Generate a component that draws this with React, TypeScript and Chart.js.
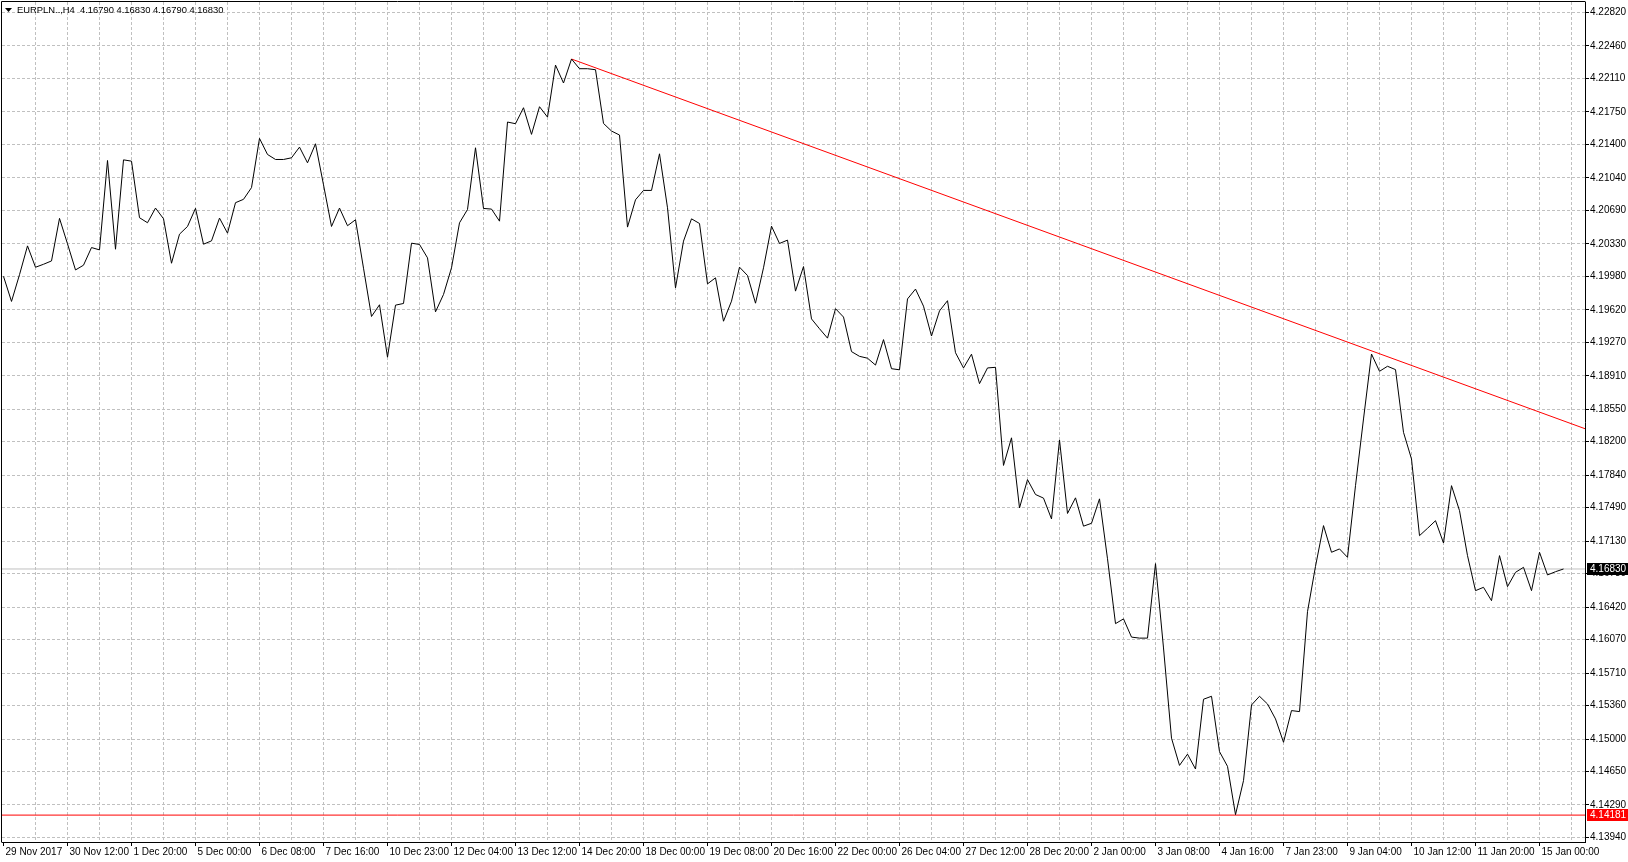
import React, { useEffect, useRef } from 'react';
import { Chart, registerables } from 'chart.js';

Chart.register(...registerables);

const HEADER_SYMBOL = 'EURPLN..,H4';
const HEADER_OHLC = ['4.16790', '4.16830', '4.16790', '4.16830'];

const TIME_LABELS = [
  '29 Nov 2017', '30 Nov 12:00', '1 Dec 20:00', '5 Dec 00:00', '6 Dec 08:00',
  '7 Dec 16:00', '10 Dec 23:00', '12 Dec 04:00', '13 Dec 12:00', '14 Dec 20:00',
  '18 Dec 00:00', '19 Dec 08:00', '20 Dec 16:00', '22 Dec 00:00', '26 Dec 04:00',
  '27 Dec 12:00', '28 Dec 20:00', '2 Jan 00:00', '3 Jan 08:00', '4 Jan 16:00',
  '7 Jan 23:00', '9 Jan 04:00', '10 Jan 12:00', '11 Jan 20:00', '15 Jan 00:00',
];

const PRICE_TICKS = [
  4.22820, 4.22460, 4.22110, 4.21750, 4.21400, 4.21040, 4.20690, 4.20330,
  4.19980, 4.19620, 4.19270, 4.18910, 4.18550, 4.18200, 4.17840, 4.17490,
  4.17130, 4.16780, 4.16420, 4.16070, 4.15710, 4.15360, 4.15000, 4.14650,
  4.14290, 4.13940,
];

// H4 close prices, one per bar
const CLOSES = [
  4.19980, 4.19710, 4.19998, 4.20308, 4.20078, 4.20110, 4.20146, 4.20604, 4.20330, 4.20049,
  4.20100, 4.20290, 4.20265, 4.21227, 4.20272, 4.21234, 4.21220, 4.20611, 4.20557, 4.20715,
  4.20600, 4.20121, 4.20434, 4.20517, 4.20712, 4.20326, 4.20362, 4.20607, 4.20445, 4.20773,
  4.20809, 4.20935, 4.21465, 4.21292, 4.21238, 4.21238, 4.21256, 4.21371, 4.21202, 4.21407,
  4.20965, 4.20517, 4.20715, 4.20525, 4.20589, 4.20068, 4.19548, 4.19674, 4.19110, 4.19670,
  4.19688, 4.20337, 4.20323, 4.20179, 4.19598, 4.19785, 4.20072, 4.20556, 4.20700, 4.21364,
  4.20711, 4.20704, 4.20574, 4.21641, 4.21623, 4.21795, 4.21508, 4.21806, 4.21694, 4.22254,
  4.22061, 4.22319, 4.22215, 4.22215, 4.22204, 4.21626, 4.21544, 4.21501, 4.20510, 4.20804,
  4.20905, 4.20905, 4.21299, 4.20718, 4.19856, 4.20359, 4.20599, 4.20549, 4.19899, 4.19964,
  4.19497, 4.19713, 4.20079, 4.19989, 4.19691, 4.20072, 4.20520, 4.20334, 4.20370, 4.19821,
  4.20085, 4.19522, 4.19416, 4.19315, 4.19632, 4.19542, 4.19170, 4.19119, 4.19099, 4.19025,
  4.19299, 4.18986, 4.18974, 4.19737, 4.19843, 4.19659, 4.19338, 4.19608, 4.19718, 4.19158,
  4.18994, 4.19142, 4.18825, 4.18994, 4.19001, 4.17945, 4.18242, 4.17487, 4.17792, 4.17632,
  4.17593, 4.17369, 4.18219, 4.17428, 4.17596, 4.17291, 4.17322, 4.17585, 4.16940, 4.16242,
  4.16293, 4.16097, 4.16086, 4.16086, 4.16888, 4.15980, 4.15009, 4.14716, 4.14837, 4.14677,
  4.15428, 4.15460, 4.14864, 4.14706, 4.14186, 4.14552, 4.15366, 4.15460, 4.15377, 4.15216,
  4.14965, 4.15306, 4.15295, 4.16371, 4.16859, 4.17297, 4.17010, 4.17046, 4.16956, 4.17727,
  4.18445, 4.19144, 4.18958, 4.19012, 4.18976, 4.18301, 4.18014, 4.17189, 4.17268, 4.17350,
  4.17110, 4.17727, 4.17458, 4.16974, 4.16597, 4.16633, 4.16489, 4.16974, 4.16640, 4.16794,
  4.16848, 4.16597, 4.17010, 4.16766, 4.16801, 4.16830,
];

// trend line anchors (bar index, price)
const TREND_BARS = [71, 197.6875];
const TREND_PRICES = [4.22319, 4.18340];

const SUPPORT_PRICE = 4.14181;
const CURRENT_PRICE = 4.16830;

const BAR_MIN = -0.1875;
const BAR_MAX = 197.6875;
const PRICE_MIN = 4.138915;
const PRICE_MAX = 4.22933;

const GRID_COLOR = '#c0c0c0';
const FONT = { family: '"Liberation Sans", Arial, sans-serif', size: 10 };
const HEADER_FONT_SIZE = 9.4;

const mt4Overlay = {
  id: 'mt4Overlay',
  afterDraw(chart: any) {
    const { ctx, chartArea, scales } = chart;
    ctx.save();
    // frame (left + top)
    ctx.strokeStyle = '#000';
    ctx.lineWidth = 1;
    ctx.beginPath();
    ctx.moveTo(1.5, chartArea.bottom + 0.5);
    ctx.lineTo(1.5, 1.5);
    ctx.lineTo(chartArea.right + 0.5, 1.5);
    ctx.stroke();

    // header
    ctx.fillStyle = '#000';
    ctx.beginPath();
    ctx.moveTo(5, 8);
    ctx.lineTo(12, 8);
    ctx.lineTo(8.5, 12);
    ctx.closePath();
    ctx.fill();
    ctx.font = `${HEADER_FONT_SIZE}px ${FONT.family}`;
    ctx.textBaseline = 'middle';
    ctx.textAlign = 'left';
    ctx.fillText(`${HEADER_SYMBOL}  ${HEADER_OHLC.join(' ')}`, 17, 10.5);

    // price markers on the axis
    ctx.font = `${FONT.size}px ${FONT.family}`;
    const markers = [
      { v: CURRENT_PRICE, bg: '#000000' },
      { v: SUPPORT_PRICE, bg: '#ff0000' },
    ];
    for (const m of markers) {
      const y = Math.round(scales.y.getPixelForValue(m.v));
      ctx.fillStyle = m.bg;
      ctx.fillRect(chartArea.right + 2, y - 6, 42, 12);
      ctx.fillStyle = '#ffffff';
      ctx.fillText(m.v.toFixed(5), chartArea.right + 5, y + 0.5);
    }
    ctx.restore();
  },
};

export default function App() {
  const ref = useRef<HTMLCanvasElement | null>(null);

  useEffect(() => {
    if (!ref.current) return;
    const chart = new Chart(ref.current, {
      type: 'line',
      data: {
        datasets: [
          {
            label: 'EURPLN H4',
            data: CLOSES.map((v, i) => ({ x: i, y: v })),
            borderColor: '#000000',
            borderWidth: 1,
            pointRadius: 0,
            tension: 0,
            fill: false,
          },
          {
            label: 'Trend',
            data: TREND_BARS.map((b, i) => ({ x: b, y: TREND_PRICES[i] })),
            borderColor: '#ff0000',
            borderWidth: 1,
            pointRadius: 0,
            fill: false,
          },
          {
            label: 'Support',
            data: [{ x: BAR_MIN, y: SUPPORT_PRICE }, { x: BAR_MAX, y: SUPPORT_PRICE }],
            borderColor: '#ff0000',
            borderWidth: 1,
            pointRadius: 0,
            fill: false,
          },
          {
            label: 'Bid',
            data: [{ x: BAR_MIN, y: CURRENT_PRICE }, { x: BAR_MAX, y: CURRENT_PRICE }],
            borderColor: '#c0c0c0',
            borderWidth: 1,
            pointRadius: 0,
            fill: false,
          },
        ],
      },
      options: {
        responsive: false,
        devicePixelRatio: 1,
        animation: false,
        events: [],
        layout: { padding: { left: 2, top: 2, right: 0, bottom: 0 } },
        plugins: { legend: { display: false }, tooltip: { enabled: false }, title: { display: false } },
        scales: {
          x: {
            type: 'linear',
            min: BAR_MIN,
            max: BAR_MAX,
            afterBuildTicks: (scale: any) => {
              const t = [];
              for (let b = 0; b <= 196; b += 4) t.push({ value: b });
              scale.ticks = t;
            },
            afterFit: (scale: any) => {
              scale.height = 20;
              scale.paddingLeft = 0;
              scale.paddingRight = 0;
            },
            grid: {
              color: (c: any) => (c.tick && c.tick.value === 0 ? 'rgba(0,0,0,0)' : GRID_COLOR),
              lineWidth: 1,
              tickLength: 4,
              tickColor: (c: any) => (c.tick && c.tick.value % 8 === 0 ? '#000000' : 'rgba(0,0,0,0)'),
              tickWidth: 1,
            },
            border: { display: true, color: '#000000', width: 1, dash: [3, 2] },
            ticks: {
              autoSkip: false,
              maxRotation: 0,
              minRotation: 0,
              align: 'start',
              labelOffset: 2,
              padding: 0,
              color: '#000000',
              font: FONT,
              callback: (v: any) => (v % 8 === 0 ? TIME_LABELS[v / 8] : ''),
            },
          },
          y: {
            type: 'linear',
            position: 'right',
            min: PRICE_MIN,
            max: PRICE_MAX,
            afterBuildTicks: (scale: any) => {
              scale.ticks = PRICE_TICKS.map((v) => ({ value: v }));
            },
            afterFit: (scale: any) => {
              scale.width = 43;
              scale.paddingTop = 0;
              scale.paddingBottom = 0;
            },
            grid: {
              color: GRID_COLOR,
              lineWidth: 1,
              tickLength: 4,
              tickColor: '#000000',
              tickWidth: 1,
            },
            border: { display: true, color: '#000000', width: 1, dash: [3, 2] },
            ticks: {
              autoSkip: false,
              padding: 1,
              color: '#000000',
              font: FONT,
              callback: (v: any) => Number(v).toFixed(5),
            },
          },
        },
      },
      plugins: [mt4Overlay],
    } as any);
    return () => chart.destroy();
  }, []);

  return (
    <div style={{ position: 'fixed', left: 0, top: 0, width: 1628, height: 862, background: '#ffffff' }}>
      <canvas ref={ref} width={1628} height={862} style={{ display: 'block', width: 1628, height: 862 }} />
    </div>
  );
}
